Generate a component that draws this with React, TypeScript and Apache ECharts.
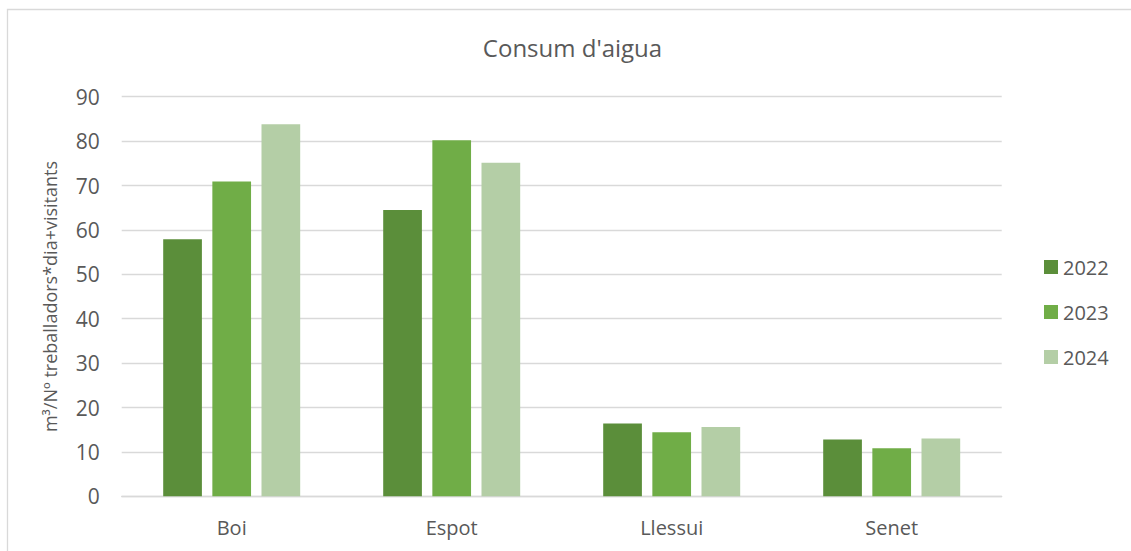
import React, { useEffect, useRef } from "react";
import * as echarts from "echarts";

const categories = ["Boi", "Espot", "Llessui", "Senet"];
const seriesNames = ["2022", "2023", "2024"];
const values2022 = [57.9, 64.5, 16.4, 12.8];
const values2023 = [70.9, 80.2, 14.4, 10.8];
const values2024 = [83.8, 75.1, 15.6, 13.0];
const colors = ["#5B8E3A", "#70AD47", "#B4CEA6"];
const yTicks = [0, 90, 10]; // min, max, interval

const FONT = "'Open Sans', 'DejaVu Sans', sans-serif";
const TEXT = "#595959";

export default function App() {
  const ref = useRef<HTMLDivElement>(null);
  useEffect(() => {
    if (!ref.current) return;
    const chart = echarts.init(ref.current, null, { renderer: "svg" });
    const data = [values2022, values2023, values2024];
    chart.setOption({
      animation: false,
      backgroundColor: "#ffffff",
      textStyle: { fontFamily: FONT, color: TEXT },
      graphic: [
        {
          type: "rect",
          shape: { x: 7.5, y: 9.5, width: 1300, height: 700 },
          style: { fill: "none", stroke: "#D9D9D9", lineWidth: 1.3 },
          silent: true,
          z: -10,
        },
        {
          type: "text",
          x: 572.5,
          y: 47,
          style: {
            text: "Consum d'aigua",
            fontFamily: FONT,
            fontSize: 24,
            fill: TEXT,
            textAlign: "center",
            textVerticalAlign: "middle",
          },
        },
      ],
      grid: { left: 121.7, right: 129.3, top: 96.7, bottom: 54.7, containLabel: false },
      legend: {
        orient: "vertical",
        left: 1039,
        top: 252,
        itemWidth: 14,
        itemHeight: 14,
        itemGap: 25,
        icon: "rect",
        data: seriesNames,
        textStyle: { fontFamily: FONT, fontSize: 20, color: TEXT },
      },
      xAxis: {
        type: "category",
        data: categories,
        axisLine: { show: true, lineStyle: { color: "#D9D9D9", width: 1.3 } },
        axisTick: { show: false },
        axisLabel: { fontFamily: FONT, fontSize: 20, color: TEXT, margin: 21 },
      },
      yAxis: {
        type: "value",
        min: yTicks[0],
        max: yTicks[1],
        interval: yTicks[2],
        name: "m³/Nº treballadors*dia+visitants",
        nameLocation: "middle",
        nameGap: 63,
        nameRotate: 90,
        nameTextStyle: { fontFamily: FONT, fontSize: 18, color: TEXT },
        axisLine: { show: false },
        axisTick: { show: false },
        splitLine: { lineStyle: { color: "#D9D9D9", width: 1.3 } },
        axisLabel: { fontFamily: FONT, fontSize: 21, color: TEXT, margin: 22 },
      },
      series: seriesNames.map((name, i) => ({
        name,
        type: "bar",
        data: data[i],
        barWidth: 38.7,
        barGap: "27%",
        itemStyle: { color: colors[i] },
      })),
    });
    return () => chart.dispose();
  }, []);
  return (
    <div
      ref={ref}
      style={{ position: "absolute", left: 0, top: 0, width: 1131, height: 551 }}
    />
  );
}
